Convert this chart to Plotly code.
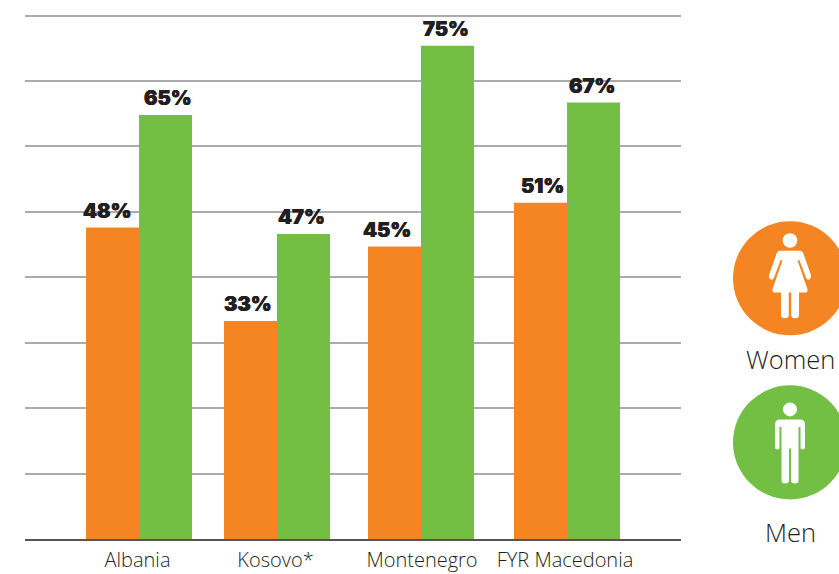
import plotly.graph_objects as go

categories = ["Albania", "Kosovo*", "Montenegro", "FYR Macedonia"]
women = [47.6, 33.3, 44.7, 51.4]
men = [64.8, 46.6, 75.4, 66.7]
series_names = ["Women", "Men"]

# layout helpers (page-pixel based x axis)
W, H = 839, 574
L, R, T, B = 25, 681, 16, 539
Y_TOP = 81
PLOT_T = B - (B - T) * Y_TOP / 80
group_centres = [139, 277, 421, 567]
label_centres = [137.5, 275.5, 422, 565]
women_shift = [-5, -3, -8, 2]
men_shift = [2, -2, -2, -2]
ORANGE, GREEN, INK = "#F58423", "#72BF44", "#231F20"
LIGHT = "Open Sans"
HEAVY = "Inter"

fig = go.Figure()
fig.add_bar(x=group_centres, y=women, name=series_names[0], width=53, offset=-53,
            marker=dict(color=ORANGE, line_width=0))
fig.add_bar(x=group_centres, y=men, name=series_names[1], width=53, offset=0,
            marker=dict(color=GREEN, line_width=0))

ann = []
for c, vals, shifts, off in ((group_centres, women, women_shift, -26.5),
                             (group_centres, men, men_shift, 26.5)):
    for cx, v, s in zip(c, vals, shifts):
        ann.append(dict(x=cx + off, y=v, xref="x", yref="y", text=f"{round(v)}%", showarrow=False,
                        yanchor="bottom", yshift=3, xshift=s,
                        font=dict(family=HEAVY, size=20, color=INK, weight=900,
                                  shadow=f"0.3px 0 0 {INK}, -0.3px 0 0 {INK}")))

def px(x):
    return (x - L) / (R - L)
def py(y):
    return 1 - (y - PLOT_T) / (B - PLOT_T)

def legend_text(text, cy):
    return dict(x=px(790), y=py(cy), xref="paper", yref="paper", text=text, showarrow=False,
                xanchor="center", yanchor="middle",
                font=dict(family=LIGHT, size=25.5, color=INK, weight=300))
ann += [legend_text(series_names[0], 359), legend_text(series_names[1], 532)]

WOMAN = [("M", -10, -27.5), ("L", 10, -27.5), ("Q", 12.5, -27.5, 13.5, -24.5), ("L", 21, -3),
         ("Q", 21.5, 0, 19, 1.5), ("Q", 17, 2, 16, -0.5), ("L", 9.5, -18), ("L", 7.5, -18),
         ("L", 17.5, 11), ("Q", 18, 14.3, 15, 14.3), ("L", 9, 14.3), ("L", 9, 37),
         ("Q", 9, 40, 5.5, 40), ("Q", 1.2, 40, 1.2, 37), ("L", 1.2, 14.3), ("L", -1.2, 14.3),
         ("L", -1.2, 37), ("Q", -1.2, 40, -5.5, 40), ("Q", -9, 40, -9, 37), ("L", -9, 14.3),
         ("L", -15, 14.3), ("Q", -18, 14.3, -17.5, 11), ("L", -7.5, -18), ("L", -9.5, -18),
         ("L", -16, -0.5), ("Q", -17, 2, -19, 1.5), ("Q", -21.5, 0, -21, -3), ("L", -13.5, -24.5),
         ("Q", -12.5, -27.5, -10, -27.5)]
MAN = [("M", -10, -23), ("L", 10, -23), ("Q", 15, -23, 15, -18), ("L", 15, 5), ("Q", 15, 7, 12.5, 7),
       ("Q", 10.5, 7, 10.5, 5), ("L", 10.5, -15.5), ("L", 8.5, -15.5), ("L", 8.5, 38),
       ("Q", 8.5, 41, 5, 41), ("Q", 1, 41, 1, 38), ("L", 1, 6), ("L", -1, 6), ("L", -1, 38),
       ("Q", -1, 41, -5, 41), ("Q", -8.5, 41, -8.5, 38), ("L", -8.5, -15.5), ("L", -10.5, -15.5),
       ("L", -10.5, 5), ("Q", -10.5, 7, -12.5, 7), ("Q", -15, 7, -15, 5), ("L", -15, -18),
       ("Q", -15, -23, -10, -23)]

def to_path(cmds, cx, cy):
    out = []
    for c in cmds:
        pts = c[1:]
        seg = " ".join(f"{px(cx + pts[i]):.5f},{py(cy + pts[i + 1]):.5f}" for i in range(0, len(pts), 2))
        out.append(c[0] + seg)
    return " ".join(out) + " Z"

def disc(cx, cy, r, color):
    return dict(type="circle", xref="paper", yref="paper", x0=px(cx - r), x1=px(cx + r),
                y0=py(cy + r), y1=py(cy - r), fillcolor=color, line_width=0, layer="above")

shapes = []
for cy, color, body, hy, hr in ((278.5, ORANGE, WOMAN, -37.7, 7.3), (442.5, GREEN, MAN, -33, 7)):
    shapes.append(disc(790, cy, 57, color))
    shapes.append(disc(790, cy + hy, hr, "white"))
    shapes.append(dict(type="path", xref="paper", yref="paper", path=to_path(body, 790, cy),
                       fillcolor="white", line_width=0, layer="above"))

fig.update_layout(
    width=W, height=H, margin=dict(l=L, r=W - R, t=PLOT_T, b=H - B, pad=0, autoexpand=False),
    plot_bgcolor="white", paper_bgcolor="white", showlegend=False, barmode="overlay",
    annotations=ann, shapes=shapes,
    xaxis=dict(range=[L, R], tickmode="array", tickvals=label_centres, ticktext=categories,
               showgrid=False, zeroline=False, showline=True, linecolor="#555555", linewidth=2,
               ticks="", ticklabelstandoff=2, automargin=False,
               tickfont=dict(family=LIGHT, size=20, color=INK, weight=300)),
    yaxis=dict(range=[0, Y_TOP], tick0=0, dtick=10, showticklabels=False, ticks="", showline=False,
               showgrid=True, gridcolor="#ABABAD", gridwidth=1.5, zeroline=False, automargin=False),
)
fig.write_html("out.html", config=dict(displayModeBar=False),
               post_script="document.body.style.margin='0';document.documentElement.style.overflow='hidden';")
